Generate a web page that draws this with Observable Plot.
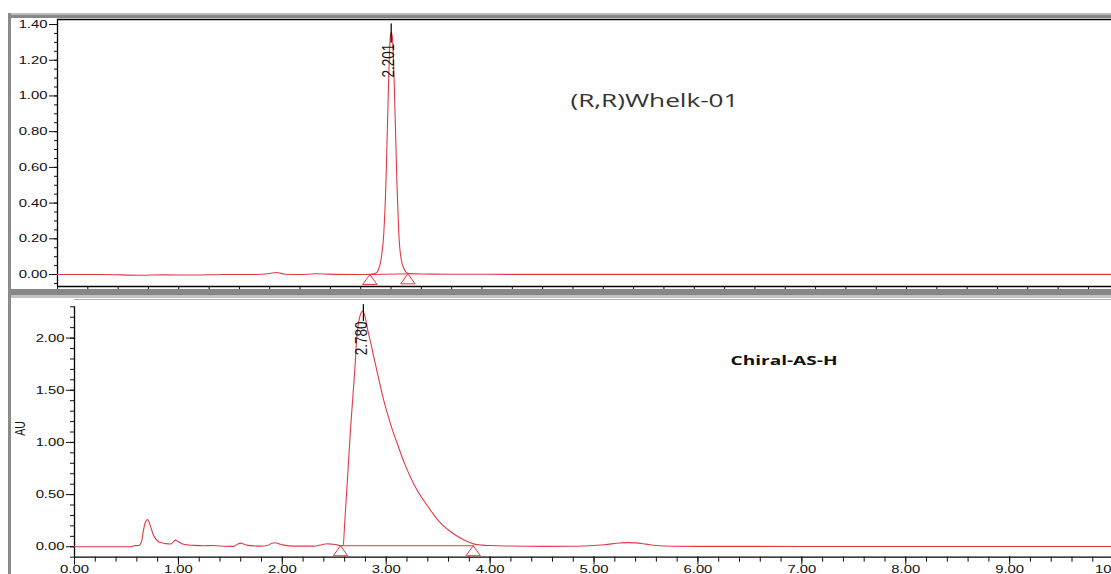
<!DOCTYPE html>
<html>
<head>
<meta charset="utf-8">
<script src="https://cdn.jsdelivr.net/npm/d3@7"></script>
<script src="https://cdn.jsdelivr.net/npm/@observablehq/plot@0.6"></script>
<style>
html, body { margin: 0; padding: 0; background: #fff; }
#wrap { position: relative; width: 1111px; height: 574px; overflow: hidden; background: #fff; }
#topPanel, #botPanel { position: absolute; left: 0; }
#topPanel { top: 0; }
#botPanel { top: 290px; }
.band { position: absolute; z-index: 5; }
svg { overflow: visible; }
</style>
</head>
<body>
<div id="wrap">
  <div id="topPanel"></div>
  <div id="botPanel"></div>
  <div class="band" style="left:8px; top:13px; right:0; height:2px; background:#bdbdbd"></div>
  <div class="band" style="left:8px; top:15px; right:0; height:2.5px; background:#878787"></div>
  <div class="band" style="left:8px; top:289px; right:0; height:5.5px; background:#878787"></div>
  <div class="band" style="left:8px; top:294.5px; right:0; height:3px; background:#c2c2c2"></div>
  <div class="band" style="left:8px; top:13px; width:3px; height:561px; background:#8a8a8a"></div>
</div>
<script>
// ---------- Top chromatogram: (R,R)Whelk-01 ----------
const topTitle = "(R,R)Whelk-01";
const topTime = [0.00, 0.30, 0.55, 0.70, 0.90, 1.10, 1.30, 1.40, 1.445, 1.50,
                 1.60, 1.70, 1.85, 2.00, 2.06, 2.09, 2.11, 2.12, 2.135, 2.152,
                 2.165, 2.175, 2.183, 2.19, 2.196, 2.201, 2.207, 2.214, 2.222, 2.23,
                 2.24, 2.251, 2.266, 2.284, 2.30, 2.32, 2.40, 2.60, 3.00, 4.00,
                 5.00, 6.00, 6.95];
const topAU   = [0.000, 0.000, -0.004, -0.002, -0.003, 0.000, 0.000, 0.006, 0.011, 0.002,
                 0.000, 0.004, 0.001, 0.000, 0.001, 0.005, 0.015, 0.035, 0.090, 0.230,
                 0.480, 0.790, 1.050, 1.250, 1.340, 1.357, 1.340, 1.250, 1.040, 0.790,
                 0.480, 0.230, 0.090, 0.035, 0.012, 0.005, 0.003, 0.002, 0.001, 0.001,
                 0.001, 0.001, 0.001];
const topPeakTime = [2.201];
const topPeakAU = [1.357];
const topPeakLabel = ["2.201"];
const topBaseTime = [2.06, 2.311];
const topBaseAU = [0.000, 0.004];
const topXDomain = [0, 6.952];
const topYDomain = [-0.067, 1.428];
const topYTicks = [0.00, 0.20, 0.40, 0.60, 0.80, 1.00, 1.20, 1.40];
const topXTicks = d3.range(0, 6.95, 0.2);
const topYMinor = d3.range(-0.05, 1.41, 0.05);

// ---------- Bottom chromatogram: Chiral-AS-H ----------
const botTitle = "Chiral-AS-H";
const botYLabel = "AU";
const botTime = [0.00, 0.30, 0.55, 0.57, 0.62, 0.645, 0.66, 0.68, 0.70, 0.715,
                 0.73, 0.763, 0.80, 0.83, 0.88, 0.924, 0.95, 0.972, 1.00, 1.04,
                 1.10, 1.15, 1.25, 1.33, 1.40, 1.53, 1.57, 1.598, 1.63, 1.66,
                 1.73, 1.79, 1.855, 1.90, 1.935, 1.97, 2.015, 2.11, 2.30, 2.38,
                 2.43, 2.48, 2.53, 2.56, 2.586, 2.60, 2.62, 2.64, 2.66, 2.68,
                 2.695, 2.72, 2.75, 2.775, 2.80, 2.817, 2.85, 2.88, 2.93, 2.977,
                 3.04, 3.106, 3.18, 3.266, 3.35, 3.43, 3.51, 3.587, 3.67, 3.75,
                 3.84, 3.92, 4.00, 4.20, 4.50, 4.80, 4.95, 5.10, 5.25, 5.32,
                 5.40, 5.50, 5.60, 5.75, 6.00, 7.00, 8.00, 9.00, 9.98];
const botAU   = [0.000, 0.000, 0.000, 0.010, 0.012, 0.050, 0.137, 0.230, 0.260, 0.245,
                 0.200, 0.105, 0.055, 0.040, 0.030, 0.026, 0.045, 0.064, 0.048, 0.026,
                 0.017, 0.013, 0.010, 0.012, 0.008, 0.004, 0.025, 0.035, 0.025, 0.016,
                 0.008, 0.006, 0.012, 0.033, 0.038, 0.028, 0.016, 0.006, 0.006, 0.020,
                 0.029, 0.025, 0.018, 0.010, 0.012, 0.220, 0.540, 0.860, 1.180, 1.450,
                 1.660, 2.040, 2.220, 2.260, 2.190, 2.100, 1.960, 1.820, 1.600, 1.400,
                 1.180, 0.990, 0.790, 0.600, 0.460, 0.345, 0.240, 0.170, 0.110, 0.064,
                 0.028, 0.016, 0.012, 0.007, 0.004, 0.005, 0.010, 0.020, 0.036, 0.040,
                 0.037, 0.025, 0.012, 0.005, 0.004, 0.003, 0.003, 0.002, 0.002];
const botPeakTime = [2.780];
const botPeakAU = [2.26];
const botPeakLabel = ["2.780"];
const botBaseTime = [2.56, 3.837];
const botBaseAU = [0.010, 0.010];
const botXDomain = [0, 9.98];
const botYDomain = [-0.1, 2.37];
const botYAxisExtent = [-0.1, 2.30];
const botYTicks = [0.00, 0.50, 1.00, 1.50, 2.00];
const botXTicks = [0, 1, 2, 3, 4, 5, 6, 7, 8, 9, 10];
const botXMinor = d3.range(0, 10, 0.2);
const botYMinor = d3.range(-0.1, 2.31, 0.1);

// ---------- shared ----------
const red = "#e23a47";
const fmt = d3.format(".2f");
const tickFont = "Liberation Sans, Arial, sans-serif";
const triangle = { draw(ctx) { ctx.moveTo(0, 0); ctx.lineTo(-7.2, 10); ctx.lineTo(7.2, 10); ctx.closePath(); } };
const stick = { draw(ctx, l) { ctx.moveTo(0, 0); ctx.lineTo(0, -l); } };
const rows = (xs, ys, extra) => xs.map((t, i) => ({ t, v: ys[i], label: extra ? extra[i] : null }));

const topRows = rows(topTime, topAU);
const topPeaks = rows(topPeakTime, topPeakAU, topPeakLabel);
const topBase = rows(topBaseTime, topBaseAU);
const botRows = rows(botTime, botAU);
const botPeaks = rows(botPeakTime, botPeakAU, botPeakLabel);
const botBase = rows(botBaseTime, botBaseAU);

const baseStyle = { background: "transparent", fontFamily: tickFont, fontSize: "11px", color: "#111", overflow: "visible" };

const topPlot = Plot.plot({
  width: 1111, height: 290,
  marginLeft: 57, marginRight: 0, marginTop: 19, marginBottom: 4,
  x: { domain: topXDomain },
  y: { domain: topYDomain },
  style: baseStyle,
  marks: [
    Plot.ruleY([topYDomain[1]], { stroke: "#000", strokeWidth: 1.3 }),
    Plot.ruleY([topYDomain[0]], { stroke: "#000", strokeWidth: 1.3 }),
    Plot.ruleX([topXDomain[0]], { stroke: "#000", strokeWidth: 1.3 }),
    Plot.axisY(topYTicks, { tickSize: 8, tickPadding: 2, tickFormat: fmt, label: null }),
    Plot.axisY(topYMinor, { tickSize: 3, tickFormat: () => "", label: null }),
    Plot.axisX(topXTicks, { tickSize: 4, tickFormat: () => "", label: null }),
    Plot.line(topBase, { x: "t", y: "v", stroke: red, strokeWidth: 1 }),
    Plot.line(topRows, { x: "t", y: "v", stroke: red, strokeWidth: 1.1, curve: "monotone-x" }),
    Plot.dot(topBase, { x: "t", y: "v", symbol: triangle, stroke: red, fill: "none", strokeWidth: 1 }),
    Plot.vector(topPeaks, { x: "t", y: "v", length: 18.3, rotate: 0, anchor: "start", shape: stick, stroke: "#000", strokeWidth: 1.2, dy: 10 }),
    Plot.text(topPeaks, { x: "t", y: "v", text: "label", rotate: -90, textAnchor: "end", lineAnchor: "middle", dy: 11.5, dx: -2, fontSize: 13.5, fill: "#111" }),
    Plot.text([topTitle], { frameAnchor: "top-left", textAnchor: "start", lineAnchor: "top", dx: 513, dy: 75, fontSize: 18, fontFamily: "Open Sans, sans-serif", fill: "#333" })
  ]
});

const botPlot = Plot.plot({
  width: 1111, height: 290,
  marginLeft: 74, marginRight: 0, marginTop: 9, marginBottom: 23.3,
  x: { domain: botXDomain },
  y: { domain: botYDomain },
  style: baseStyle,
  marks: [
    Plot.ruleY([botYDomain[1]], { stroke: "#b4b4b4", strokeWidth: 1.2 }),
    Plot.ruleY([botYDomain[0]], { stroke: "#000", strokeWidth: 1.3 }),
    Plot.ruleX([botXDomain[0]], { y1: botYAxisExtent[0], y2: botYAxisExtent[1], stroke: "#000", strokeWidth: 1.3 }),
    Plot.axisY(botYTicks, { tickSize: 8, tickPadding: 2, tickFormat: fmt, label: null }),
    Plot.axisY(botYMinor, { tickSize: 4, tickFormat: () => "", label: null }),
    Plot.axisX(botXTicks, { tickSize: 8, tickPadding: -0.5, tickFormat: fmt, label: null }),
    Plot.axisX(botXMinor, { tickSize: 5, tickFormat: () => "", label: null }),
    Plot.line(botBase, { x: "t", y: "v", stroke: red, strokeWidth: 1 }),
    Plot.line(botRows, { x: "t", y: "v", stroke: red, strokeWidth: 1.1, curve: "monotone-x" }),
    Plot.dot(botBase, { x: "t", y: "v", symbol: triangle, stroke: red, fill: "none", strokeWidth: 1 }),
    Plot.vector(botPeaks, { x: "t", y: "v", length: 16, rotate: 0, anchor: "start", shape: stick, stroke: "#000", strokeWidth: 1.2, dy: 9.5 }),
    Plot.text(botPeaks, { x: "t", y: "v", text: "label", rotate: -90, textAnchor: "end", lineAnchor: "middle", dy: 10.5, dx: -1, fontSize: 13.5, fill: "#111" }),
    Plot.text([botYLabel], { frameAnchor: "left", rotate: -90, textAnchor: "middle", lineAnchor: "middle", dx: -54, fontSize: 10.5, fill: "#111" }),
    Plot.text([botTitle], { frameAnchor: "top-left", textAnchor: "start", lineAnchor: "top", dx: 656, dy: 56, fontSize: 13, fontWeight: "bold", fontFamily: "Open Sans, sans-serif", fill: "#111" })
  ]
});

document.getElementById("topPanel").appendChild(topPlot);
document.getElementById("botPanel").appendChild(botPlot);

// the source picture is horizontally stretched: widen text accordingly
function stretchText(svg, test, sx, sy) {
  d3.select(svg).selectAll("text").filter(function () { return test(this); }).each(function () {
    const t = this.getAttribute("transform") || "";
    this.setAttribute("transform", (t + ` scale(${sx},${sy})`).trim());
  });
}
const inTickLabels = (el) => {
  const g = el.closest("g[aria-label]");
  return g && /tick label/.test(g.getAttribute("aria-label"));
};
const hasText = (list) => (el) => list.includes(el.textContent);
for (const svg of [topPlot, botPlot]) {
  stretchText(svg, inTickLabels, 1.35, 1);
  stretchText(svg, hasText(topPeakLabel.concat(botPeakLabel)), 1, 1.18);
  stretchText(svg, hasText([botYLabel]), 1, 1.35);
}
d3.select(topPlot).selectAll("text").filter(function () { return this.textContent === topTitle; })
  .attr("textLength", 168).attr("lengthAdjust", "spacingAndGlyphs");
d3.select(botPlot).selectAll("text").filter(function () { return this.textContent === botTitle; })
  .attr("textLength", 107).attr("lengthAdjust", "spacingAndGlyphs");
</script>
</body>
</html>
